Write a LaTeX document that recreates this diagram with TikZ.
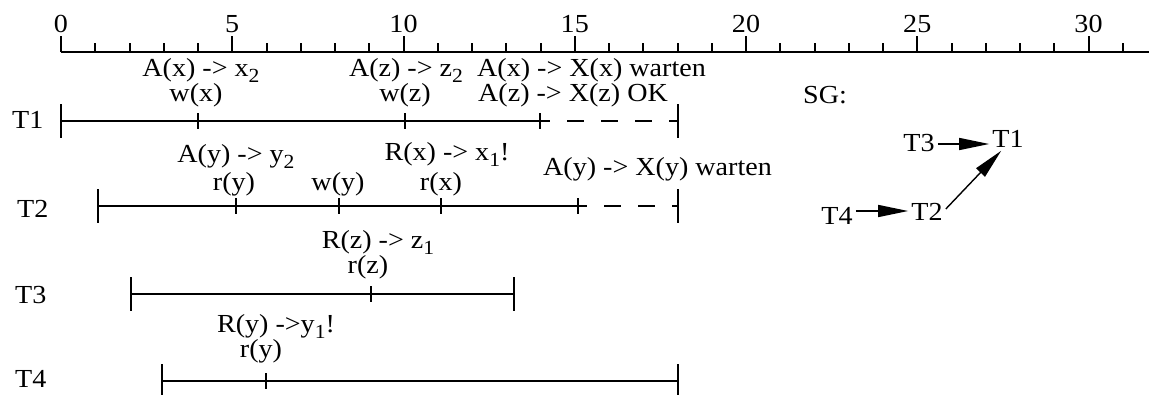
\documentclass[tikz,border=0pt]{standalone}
\usepackage{fontspec}
\setmainfont[FakeStretch=1.08]{Liberation Serif}
\usetikzlibrary{arrows.meta}
\newcommand\subx[1]{\raisebox{-6pt}{\fontsize{20}{20}\selectfont #1}}
\begin{document}
\begin{tikzpicture}[x=1pt,y=-1pt,
  lbl/.style={inner sep=0pt, anchor=base, font=\fontsize{26}{30}\selectfont},
  lbll/.style={lbl, anchor=base west},
  tl/.style={line width=2pt},
  axisline/.style={line width=2.4pt},
  wait/.style={line width=2pt, dash pattern=on 17pt off 17pt},
  gnode/.style={inner sep=3pt, font=\fontsize{26}{30}\selectfont},
  sg/.style={line width=1.4pt, -{Triangle[length=30pt,width=12pt]}},
]
\useasboundingbox (0,0) rectangle (1149,394);

% time axis
\coordinate (ax0) at (61,52);
\coordinate (axE) at (1149,52);
\draw[axisline] (ax0) -- (axE);
\foreach \i in {1,...,31} {\draw[tl] (61+34.25*\i,52) -- ++(0,-9);}
\foreach \i in {0,5,...,30} {
  \draw[tl] (61+34.25*\i,52) -- ++(0,-16);
  \node[lbl] (num\i) at (61+34.25*\i,32) {\i};
}

% row labels
\node[lbll] (rT1) at (12,128) {T1};
\node[lbll] (rT2) at (17,217) {T2};
\node[lbll] (rT3) at (15,303) {T3};
\node[lbll] (rT4) at (15,387) {T4};

% ---- T1 ----
\coordinate (s1) at (61,121);
\coordinate (p1a) at (198,121);
\coordinate (p1b) at (405,121);
\coordinate (w1) at (540,121);
\coordinate (f1) at (678,121);
\draw[tl] (s1) -- (w1);
\draw[wait, dash phase=7pt] (w1) -- (f1);
\draw[tl] ([yshift=17pt]s1) -- ([yshift=-17pt]s1);
\draw[tl] ([yshift=17pt]f1) -- ([yshift=-17pt]f1);
\foreach \p in {p1a,p1b,w1} {\draw[tl] ([yshift=8pt]\p) -- ([yshift=-8pt]\p);}
\node[lbl] (l1a) at (201,76) {A(x) -> x\subx{2}};
\node[lbl] (l1b) at (196,101) {w(x)};
\node[lbl] (l1c) at (406,76) {A(z) -> z\subx{2}};
\node[lbl] (l1d) at (405,101) {w(z)};
\node[lbll] (l1e) at (477,76) {A(x) -> X(x) warten};
\node[lbll] (l1f) at (478,101) {A(z) -> X(z) OK};

% ---- T2 ----
\coordinate (s2) at (98,206);
\coordinate (p2a) at (236,206);
\coordinate (p2b) at (339,206);
\coordinate (p2c) at (441,206);
\coordinate (w2) at (578,206);
\coordinate (f2) at (678,206);
\draw[tl] (s2) -- (w2);
\draw[wait, dash phase=8pt] (w2) -- (f2);
\draw[tl] ([yshift=17pt]s2) -- ([yshift=-17pt]s2);
\draw[tl] ([yshift=17pt]f2) -- ([yshift=-17pt]f2);
\foreach \p in {p2a,p2b,p2c,w2} {\draw[tl] ([yshift=8pt]\p) -- ([yshift=-8pt]\p);}
\node[lbl] (l2a) at (236,162) {A(y) -> y\subx{2}};
\node[lbl] (l2b) at (234,190) {r(y)};
\node[lbl] (l2c) at (338,190) {w(y)};
\node[lbl] (l2d) at (447,160) {R(x) -> x\subx{1}!};
\node[lbl] (l2e) at (441,190) {r(x)};
\node[lbll] (l2f) at (543,175) {A(y) -> X(y) warten};

% ---- T3 ----
\coordinate (s3) at (131,294);
\coordinate (p3a) at (371,294);
\coordinate (f3) at (514,294);
\draw[tl] (s3) -- (f3);
\draw[tl] ([yshift=17pt]s3) -- ([yshift=-17pt]s3);
\draw[tl] ([yshift=17pt]f3) -- ([yshift=-17pt]f3);
\draw[tl] ([yshift=8pt]p3a) -- ([yshift=-8pt]p3a);
\node[lbl] (l3a) at (378,248) {R(z) -> z\subx{1}};
\node[lbl] (l3b) at (368,273) {r(z)};

% ---- T4 ----
\coordinate (s4) at (162,381);
\coordinate (p4a) at (266,381);
\coordinate (f4) at (678,381);
\draw[tl] (s4) -- (f4);
\draw[tl] ([yshift=17pt]s4) -- ([yshift=-17pt]s4);
\draw[tl] ([yshift=17pt]f4) -- ([yshift=-17pt]f4);
\draw[tl] ([yshift=8pt]p4a) -- ([yshift=-8pt]p4a);
\node[lbl] (l4a) at (276,332) {R(y) ->y\subx{1}!};
\node[lbl] (l4b) at (261,357) {r(y)};

% ---- serialization graph ----
\node[lbl] (sgl) at (825,103) {SG:};
\node[gnode] (g3) at (919,143) {T3};
\node[gnode] (g1) at (1008,139) {T1};
\node[gnode] (g4) at (837,216) {T4};
\node[gnode] (g2) at (927,212) {T2};
\draw[sg] ([yshift=-1pt]g3.east) -- ([yshift=-1pt]g3.east -| g1.west);
\draw[sg] ([yshift=5pt]g4.east) -- ([yshift=5pt]g4.east -| g2.west);
\draw[sg] ([yshift=3pt]g2.east) -- (g1.240);
\end{tikzpicture}
\end{document}
